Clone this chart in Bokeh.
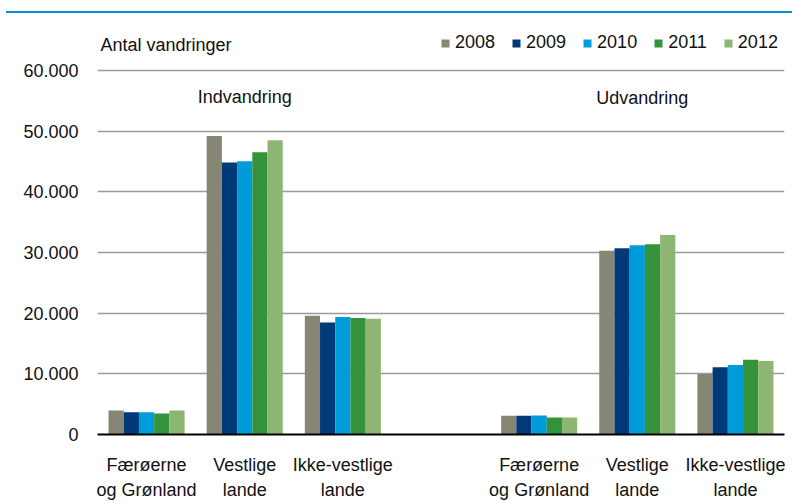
from bokeh.plotting import figure
from bokeh.layouts import column
from bokeh.models import (Range1d, FixedTicker, Label, Legend, LegendItem,
                          ColumnDataSource, Div)
from bokeh.embed import file_html
from bokeh.resources import INLINE

# ---------------- data ----------------
groups = ["Færøerne\nog Grønland", "Vestlige\nlande", "Ikke-vestlige\nlande"]
sections = ["Indvandring", "Udvandring"]
years = ["2008", "2009", "2010", "2011", "2012"]
# order: Indvandring (F, V, I), Udvandring (F, V, I)
v2008 = [3950, 49200, 19560, 3070, 30300, 9970]
v2009 = [3670, 44830, 18460, 3070, 30680, 11070]
v2010 = [3670, 45040, 19350, 3120, 31180, 11450]
v2011 = [3450, 46520, 19180, 2790, 31340, 12330]
v2012 = [3950, 48500, 19070, 2790, 32880, 12110]
y_ticks = [0, 10000, 20000, 30000, 40000, 50000, 60000]

series = [v2008, v2009, v2010, v2011, v2012]
colors = ["#878674", "#003A78", "#009BD9", "#34933A", "#8DB674"]

FONT = "Liberation Sans"
FS = "18px"
TXT = "#111111"

slots = [0, 1, 2, 4, 5, 6]
centers = [s + 0.5 for s in slots]
bar_w = 0.155

p = figure(width=792, height=489, output_backend="svg", toolbar_location=None,
           x_range=Range1d(0, 7), y_range=Range1d(0, 69377),
           min_border_left=97, min_border_right=8, min_border_top=0,
           min_border_bottom=67)
p.outline_line_color = None
p.background_fill_color = "white"
p.border_fill_color = "white"

renderers = []
for j, (yr, vals, col) in enumerate(zip(years, series, colors)):
    xs = [c + (j - 2) * bar_w for c in centers]
    src = ColumnDataSource(dict(x=xs, top=vals))
    r = p.vbar(x="x", top="top", width=bar_w, bottom=0, source=src,
               fill_color=col, line_color=None)
    renderers.append(r)

# grid
p.xgrid.grid_line_color = None
p.ygrid.ticker = FixedTicker(ticks=y_ticks[1:])
p.ygrid.grid_line_color = "#9a9a9a"
p.ygrid.grid_line_width = 1.6

# y axis
p.yaxis.ticker = FixedTicker(ticks=y_ticks)
p.yaxis.major_label_overrides = {t: f"{t:,}".replace(",", ".") for t in y_ticks}
p.yaxis.axis_line_color = None
p.yaxis.major_tick_line_color = None
p.yaxis.minor_tick_line_color = None
p.yaxis.major_label_standoff = 13
p.yaxis.major_label_text_font = FONT
p.yaxis.major_label_text_font_size = FS
p.yaxis.major_label_text_color = TXT

# x axis
p.xaxis.ticker = FixedTicker(ticks=centers)
p.xaxis.major_label_overrides = {c: groups[i % 3] for i, c in enumerate(centers)}
p.xaxis.axis_line_color = "black"
p.xaxis.axis_line_width = 2.2
p.xaxis.major_tick_line_color = None
p.xaxis.minor_tick_line_color = None
p.xaxis.major_label_standoff = 14
p.xaxis.major_label_text_font = FONT
p.xaxis.major_label_text_font_size = FS
p.xaxis.major_label_text_line_height = 1.25
p.xaxis.major_label_text_color = TXT

# texts
p.add_layout(Label(x=0.03, y=64116, text="Antal vandringer", text_font=FONT,
                   text_font_size=FS, text_color=TXT,
                   text_baseline="middle", text_align="left"))
p.add_layout(Label(x=1.5, y=55617, text=sections[0], text_font=FONT,
                   text_font_size=FS, text_color=TXT,
                   text_baseline="middle", text_align="center"))
p.add_layout(Label(x=5.55, y=55400, text=sections[1], text_font=FONT,
                   text_font_size=FS, text_color=TXT,
                   text_baseline="middle", text_align="center"))

legend = Legend(items=[LegendItem(label=yr, renderers=[r]) for yr, r in zip(years, renderers)],
                orientation="horizontal", location=(343, 381),
                glyph_width=10, glyph_height=10, label_standoff=5, spacing=16,
                padding=0, margin=0, border_line_color=None,
                background_fill_alpha=0, label_text_font=FONT,
                label_text_font_size=FS, label_text_color=TXT,
                label_height=10)
p.add_layout(legend)

top_rule = Div(text="", width=786, height=2, margin=(11, 0, 0, 6),
               styles={"background-color": "#0093D3"})
layout = column(top_rule, p, spacing=0)

open("out.html", "w").write(file_html(layout, INLINE))
